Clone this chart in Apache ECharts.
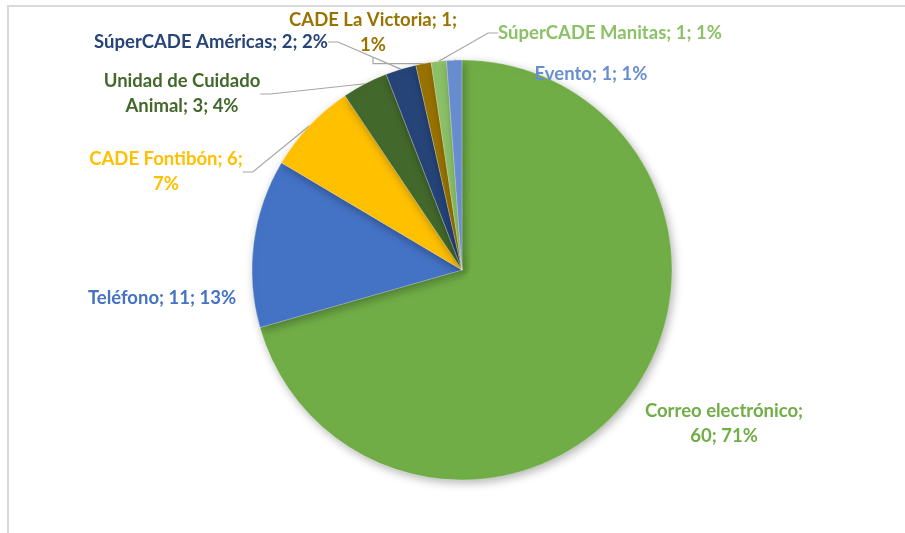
<!DOCTYPE html>
<html>
<head>
<meta charset="utf-8">
<script src="https://cdn.jsdelivr.net/npm/echarts@6/dist/echarts.min.js"></script>
<style>
  html, body { margin: 0; padding: 0; background: #fff; }
  #frame { position: absolute; left: 7px; top: 5px; width: 898px; height: 528px;
           border-left: 2px solid #d9d9d9; border-top: 2px solid #d9d9d9; }
  #chart { position: absolute; left: 0; top: 0; width: 905px; height: 533px; }
</style>
</head>
<body>
<div id="frame"></div>
<div id="chart"></div>
<script>
// datos del gráfico
const categories = [
  "Correo electrónico",
  "Teléfono",
  "CADE Fontibón",
  "Unidad de Cuidado Animal",
  "SúperCADE Américas",
  "CADE La Victoria",
  "SúperCADE Manitas",
  "Evento"
];
const values = [60, 11, 6, 3, 2, 1, 1, 1];

// colores de cada porción
const colors = ["#70AD47", "#4472C4", "#FFC000", "#43682B", "#264478", "#997300", "#8CC168", "#698ED0"];

// posición (centro) de cada etiqueta, como la dejó Excel
const labelPos = [
  [724, 424], [162, 298], [166, 172], [182, 94],
  [211, 42], [373, 33], [610, 33], [591, 74]
];
// dónde se parte la etiqueta: n = después del separador n, -1 = sin salto
const breakAfter = [1, -1, 2, -1, -1, 2, -1, -1];
const noLine = [true, true, false, false, false, false, false, false];

const myChart = echarts.init(document.getElementById("chart"));

myChart.setOption({
  animation: false,
  series: [
    {
      type: "pie",
      center: [462, 270],
      radius: 210,
      startAngle: 90,
      clockwise: true,
      percentPrecision: 0,
      data: categories.map((name, i) => ({
        name: name,
        value: values[i],
        itemStyle: { color: colors[i] },
        label: { color: colors[i] },
        labelLine: { show: !noLine[i] }
      })),
      itemStyle: {
        borderColor: "rgba(255,255,255,0.5)",
        borderWidth: 0.5,
        shadowBlur: 10,
        shadowOffsetX: 2,
        shadowOffsetY: 3,
        shadowColor: "rgba(0,0,0,0.3)"
      },
      label: {
        show: true,
        position: "outside",
        fontFamily: "Lato",
        fontWeight: "bold",
        fontSize: 18.5,
        lineHeight: 25,
        align: "center",
        formatter: (p) => {
          let name = p.name;
          if (p.dataIndex === 3) name = "Unidad de Cuidado\nAnimal";
          const parts = [name, String(p.value), p.percent + "%"];
          const b = breakAfter[p.dataIndex];
          let txt = "";
          parts.forEach((s, k) => {
            txt += s;
            if (k < parts.length - 1) txt += (k + 1 === b) ? ";\n" : "; ";
          });
          return txt;
        }
      },
      labelLine: {
        show: true,
        length: 10,
        length2: 10,
        lineStyle: { color: "#A6A6A6", width: 1.2 }
      },
      labelLayout: (params) => {
        const pos = labelPos[params.dataIndex];
        return {
          x: pos[0],
          y: pos[1],
          align: "center",
          verticalAlign: "middle"
        };
      }
    }
  ]
});
</script>
</body>
</html>
